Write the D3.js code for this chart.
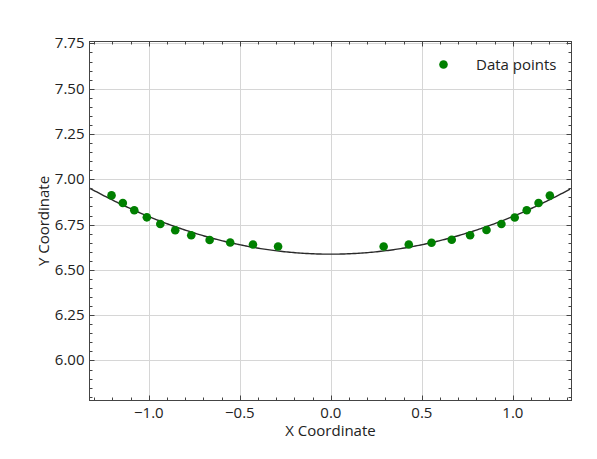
<!DOCTYPE html>
<meta charset="utf-8">
<style>
body { margin: 0; background: #fff; }
svg { display: block; font-family: "Open Sans", "Noto Sans", sans-serif; }
.grid line { stroke: #d6d6d6; stroke-width: 1; }
.frame { fill: none; stroke: #444; stroke-width: 1; }
.tick-label { font-size: 15px; fill: #222; }
.axis-title { font-size: 15px; fill: #222; }
.fit { fill: none; stroke: #2a2a2a; stroke-width: 1.4; }
.points circle { fill: #008000; }
</style>

<svg id="chart" width="597" height="459"></svg>

<script src="https://cdn.jsdelivr.net/npm/d3@7"></script>
<script>
    // data
    var xValues = [-1.205, -1.143, -1.080, -1.011, -0.937, -0.855, -0.767, -0.666, -0.553, -0.428, -0.290,
                    0.290,  0.428,  0.553,  0.664,  0.765,  0.855,  0.937,  1.010,  1.076,  1.141,  1.203];
    var yValues = [6.911, 6.869, 6.829, 6.790, 6.753, 6.719, 6.691, 6.665, 6.651, 6.640, 6.629,
                   6.629, 6.640, 6.650, 6.666, 6.691, 6.720, 6.753, 6.789, 6.829, 6.869, 6.910];
    var xTicks = [-1.0, -0.5, 0.0, 0.5, 1.0];
    var yTicks = [6.00, 6.25, 6.50, 6.75, 7.00, 7.25, 7.50, 7.75];
    var xDomain = [-1.326, 1.322];
    var yDomain = [5.779, 7.7605];
    var legendLabel = "Data points";

    var svg = d3.select("#chart");
    var plotLeft = 89.5, plotRight = 571.5, plotTop = 41.5, plotBottom = 400.5;

    var x = d3.scaleLinear().domain(xDomain).range([plotLeft, plotRight]);
    var y = d3.scaleLinear().domain(yDomain).range([plotBottom, plotTop]);

    // least squares quadratic fit y = c0 + c1 x + c2 x^2
    function fitQuadratic(xs, ys) {
        var S = [[0,0,0],[0,0,0],[0,0,0]], b = [0,0,0];
        xs.forEach(function(xi, i) {
            var p = [1, xi, xi * xi];
            for (var r = 0; r < 3; r++) {
                b[r] += p[r] * ys[i];
                for (var c = 0; c < 3; c++) S[r][c] += p[r] * p[c];
            }
        });
        // gaussian elimination
        for (var k = 0; k < 3; k++) {
            for (var r = k + 1; r < 3; r++) {
                var f = S[r][k] / S[k][k];
                for (var c = k; c < 3; c++) S[r][c] -= f * S[k][c];
                b[r] -= f * b[k];
            }
        }
        var coef = [0,0,0];
        for (var k = 2; k >= 0; k--) {
            var s = b[k];
            for (var c = k + 1; c < 3; c++) s -= S[k][c] * coef[c];
            coef[k] = s / S[k][k];
        }
        return coef;
    }
    var coef = fitQuadratic(xValues, yValues);

    // grid
    var grid = svg.append("g").attr("class", "grid");
    grid.selectAll(".gx").data(xTicks).enter().append("line")
        .attr("x1", function(d) { return Math.round(x(d)) + 0.5; })
        .attr("x2", function(d) { return Math.round(x(d)) + 0.5; })
        .attr("y1", plotTop).attr("y2", plotBottom);
    grid.selectAll(".gy").data(yTicks).enter().append("line")
        .attr("y1", function(d) { return Math.round(y(d)) + 0.5; })
        .attr("y2", function(d) { return Math.round(y(d)) + 0.5; })
        .attr("x1", plotLeft).attr("x2", plotRight);

    // fitted curve
    var xs = d3.range(xDomain[0], xDomain[1] + 0.001, 0.01);
    var line = d3.line()
        .x(function(d) { return x(d); })
        .y(function(d) { return y(coef[0] + coef[1] * d + coef[2] * d * d); });
    svg.append("path").attr("class", "fit").datum(xs).attr("d", line);

    // points
    svg.append("g").attr("class", "points")
       .selectAll("circle")
       .data(xValues)
       .enter().append("circle")
       .attr("cx", function(d) { return x(d); })
       .attr("cy", function(d, i) { return y(yValues[i]); })
       .attr("r", 4.3);

    // frame
    svg.append("rect").attr("class", "frame")
       .attr("x", plotLeft).attr("y", plotTop)
       .attr("width", plotRight - plotLeft).attr("height", plotBottom - plotTop);

    // inward ticks on all four sides
    var xMinor = d3.range(-13, 14).map(function(i) { return i / 10; })
        .filter(function(v) { return v >= xDomain[0] && v <= xDomain[1]; });
    var yMinor = d3.range(116, 156).map(function(i) { return i / 20; })
        .filter(function(v) { return v >= yDomain[0] && v <= yDomain[1]; });
    var ticks = svg.append("g").attr("stroke", "#444").attr("stroke-width", 1);
    function isMajor(list, v) { return list.some(function(t) { return Math.abs(t - v) < 1e-6; }); }
    xMinor.forEach(function(v) {
        var len = isMajor(xTicks, v) ? 5 : 3, px = Math.round(x(v)) + 0.5;
        ticks.append("line").attr("x1", px).attr("x2", px).attr("y1", plotBottom).attr("y2", plotBottom - len);
        ticks.append("line").attr("x1", px).attr("x2", px).attr("y1", plotTop).attr("y2", plotTop + len);
    });
    yMinor.forEach(function(v) {
        var len = isMajor(yTicks, v) ? 5 : 3, py = Math.round(y(v)) + 0.5;
        ticks.append("line").attr("y1", py).attr("y2", py).attr("x1", plotLeft).attr("x2", plotLeft + len);
        ticks.append("line").attr("y1", py).attr("y2", py).attr("x1", plotRight).attr("x2", plotRight - len);
    });

    // tick labels
    svg.append("g").selectAll("text").data(xTicks).enter().append("text")
       .attr("class", "tick-label")
       .attr("x", function(d) { return x(d); })
       .attr("y", plotBottom + 17)
       .attr("text-anchor", "middle")
       .text(function(d) { return d3.format(".1f")(d).replace("-", "\u2212"); });
    svg.append("g").selectAll("text").data(yTicks).enter().append("text")
       .attr("class", "tick-label")
       .attr("x", plotLeft - 5)
       .attr("y", function(d) { return y(d) + 5; })
       .attr("text-anchor", "end")
       .text(function(d) { return d3.format(".2f")(d); });

    // axis titles
    svg.append("text").attr("class", "axis-title")
       .attr("x", (plotLeft + plotRight) / 2).attr("y", 436)
       .attr("text-anchor", "middle")
       .text("X Coordinate");
    svg.append("text").attr("class", "axis-title")
       .attr("transform", "translate(49," + ((plotTop + plotBottom) / 2) + ") rotate(-90)")
       .attr("text-anchor", "middle")
       .text("Y Coordinate");

    // legend
    svg.append("circle").attr("cx", 443.5).attr("cy", 64.5).attr("r", 4.3).attr("fill", "#008000");
    svg.append("text").attr("class", "tick-label")
       .attr("x", 476).attr("y", 69.5)
       .text(legendLabel);
</script>
